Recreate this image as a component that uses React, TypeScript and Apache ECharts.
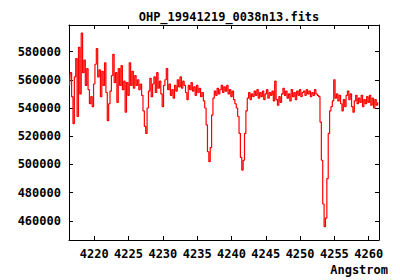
import React, { useEffect, useRef } from "react";
import * as echarts from "echarts";

const TITLE = "OHP_19941219_0038n13.fits";
const X_NAME = "Angstrom";
const WAVE_START = 4216.4;
const WAVE_STEP = 0.2;
const X_TICKS = [4220, 4225, 4230, 4235, 4240, 4245, 4250, 4255, 4260];
const Y_TICKS = [460000, 480000, 500000, 520000, 540000, 560000, 580000];
const FLUX = [
  556000, 565000, 548000, 529000, 562000, 575000, 534000, 583000, 550000, 593000,
  565000, 574000, 556000, 568000, 553000, 543000, 548000, 541000, 557000, 571000,
  582000, 562000, 567000, 548000, 566000, 556000, 572000, 551000, 531000, 543000,
  552000, 563000, 578000, 558000, 565000, 544000, 568000, 556000, 570000, 553000,
  559000, 537000, 558000, 549000, 572000, 556000, 566000, 554000, 563000, 556000,
  560000, 553000, 557000, 549000, 538000, 527000, 522000, 540000, 552000, 561000,
  548000, 557000, 562000, 551000, 565000, 554000, 559000, 550000, 541000, 556000,
  560000, 568000, 553000, 557000, 549000, 553000, 547000, 556000, 552000, 560000,
  555000, 562000, 554000, 559000, 556000, 551000, 546000, 556000, 553000, 558000,
  552000, 555000, 549000, 556000, 551000, 554000, 548000, 551000, 545000, 540000,
  528000, 509000, 502000, 512000, 535000, 547000, 552000, 549000, 554000, 550000,
  553000, 556000, 551000, 555000, 552000, 556000, 550000, 553000, 548000, 552000,
  546000, 543000, 540000, 534000, 522000, 505000, 496000, 503000, 522000, 538000,
  547000, 551000, 546000, 550000, 548000, 552000, 549000, 553000, 547000, 551000,
  548000, 552000, 546000, 550000, 553000, 547000, 551000, 549000, 552000, 545000,
  559000, 546000, 542000, 548000, 544000, 550000, 554000, 549000, 552000, 547000,
  550000, 545000, 553000, 548000, 551000, 546000, 552000, 549000, 553000, 548000,
  551000, 552000, 549000, 553000, 550000, 552000, 548000, 551000, 549000, 553000,
  550000, 549000, 548000, 530000, 503000, 472000, 456000, 462000, 490000, 522000,
  538000, 541000, 545000, 560000, 547000, 550000, 545000, 549000, 543000, 538000,
  546000, 541000, 549000, 552000, 546000, 550000, 541000, 537000, 545000, 549000,
  543000, 547000, 544000, 549000, 541000, 546000, 543000, 548000, 544000, 549000,
  542000, 547000, 540000, 546000, 542000, 544000,
];

const FONT = "'DejaVu Sans Mono', monospace";
const plain = (v: number) => String(Math.round(v));

export default function App() {
  const ref = useRef<HTMLDivElement>(null);
  useEffect(() => {
    if (!ref.current) return;
    document.body.style.margin = "0";
    const chart = echarts.init(ref.current, null, { renderer: "svg" });
    const data = FLUX.map((v, i) => [
      +(WAVE_START + i * WAVE_STEP).toFixed(2),
      v,
    ]);
    const xBase = {
      type: "value",
      min: 4216.32,
      max: 4261.5,
      splitLine: { show: false },
      axisLine: { show: true, onZero: false, lineStyle: { color: "#000", width: 1 } },
      axisTick: {
        show: true,
        inside: true,
        length: 4,
        customValues: X_TICKS,
        lineStyle: { color: "#000", width: 1 },
      },
    };
    const yBase = {
      type: "value",
      min: 446500,
      max: 598800,
      splitLine: { show: false },
      axisLine: { show: true, onZero: false, lineStyle: { color: "#000", width: 1 } },
      axisTick: {
        show: true,
        inside: true,
        length: 4,
        customValues: Y_TICKS,
        lineStyle: { color: "#000", width: 1 },
      },
    };
    chart.setOption({
      animation: false,
      backgroundColor: "#fff",
      title: {
        text: TITLE,
        left: 224,
        textAlign: "center",
        top: 6,
        textStyle: { fontFamily: FONT, fontSize: 12, fontWeight: "bold", color: "#000" },
      },
      grid: { left: 69, right: 21, top: 25, bottom: 40, containLabel: false },
      xAxis: [
        {
          ...xBase,
          position: "bottom",
          axisLabel: {
            show: true,
            customValues: X_TICKS,
            formatter: plain,
            margin: 7,
            fontFamily: FONT,
            fontSize: 12,
            lineHeight: 13,
            fontWeight: "bold",
            color: "#000",
            hideOverlap: false,
          },
        },
        { ...xBase, position: "top", axisLabel: { show: false } },
      ],
      yAxis: [
        {
          ...yBase,
          position: "left",
          axisLabel: {
            show: true,
            customValues: Y_TICKS,
            formatter: plain,
            margin: 8,
            fontFamily: FONT,
            fontSize: 12,
            fontWeight: "bold",
            color: "#000",
          },
        },
        { ...yBase, position: "right", axisLabel: { show: false } },
      ],
      graphic: [
        {
          type: "text",
          right: 12,
          top: 263,
          style: {
            text: X_NAME,
            fontFamily: FONT,
            fontSize: 12,
            lineHeight: 13,
            fontWeight: "bold",
            fill: "#000",
          },
        },
      ],
      series: [
        {
          type: "line",
          data,
          xAxisIndex: 0,
          yAxisIndex: 0,
          step: "middle",
          showSymbol: false,
          symbol: "none",
          lineStyle: { color: "#ff0000", width: 1.2 },
          clip: true,
        },
      ],
    });
    return () => chart.dispose();
  }, []);
  return <div ref={ref} style={{ width: 400, height: 280 }} />;
}
